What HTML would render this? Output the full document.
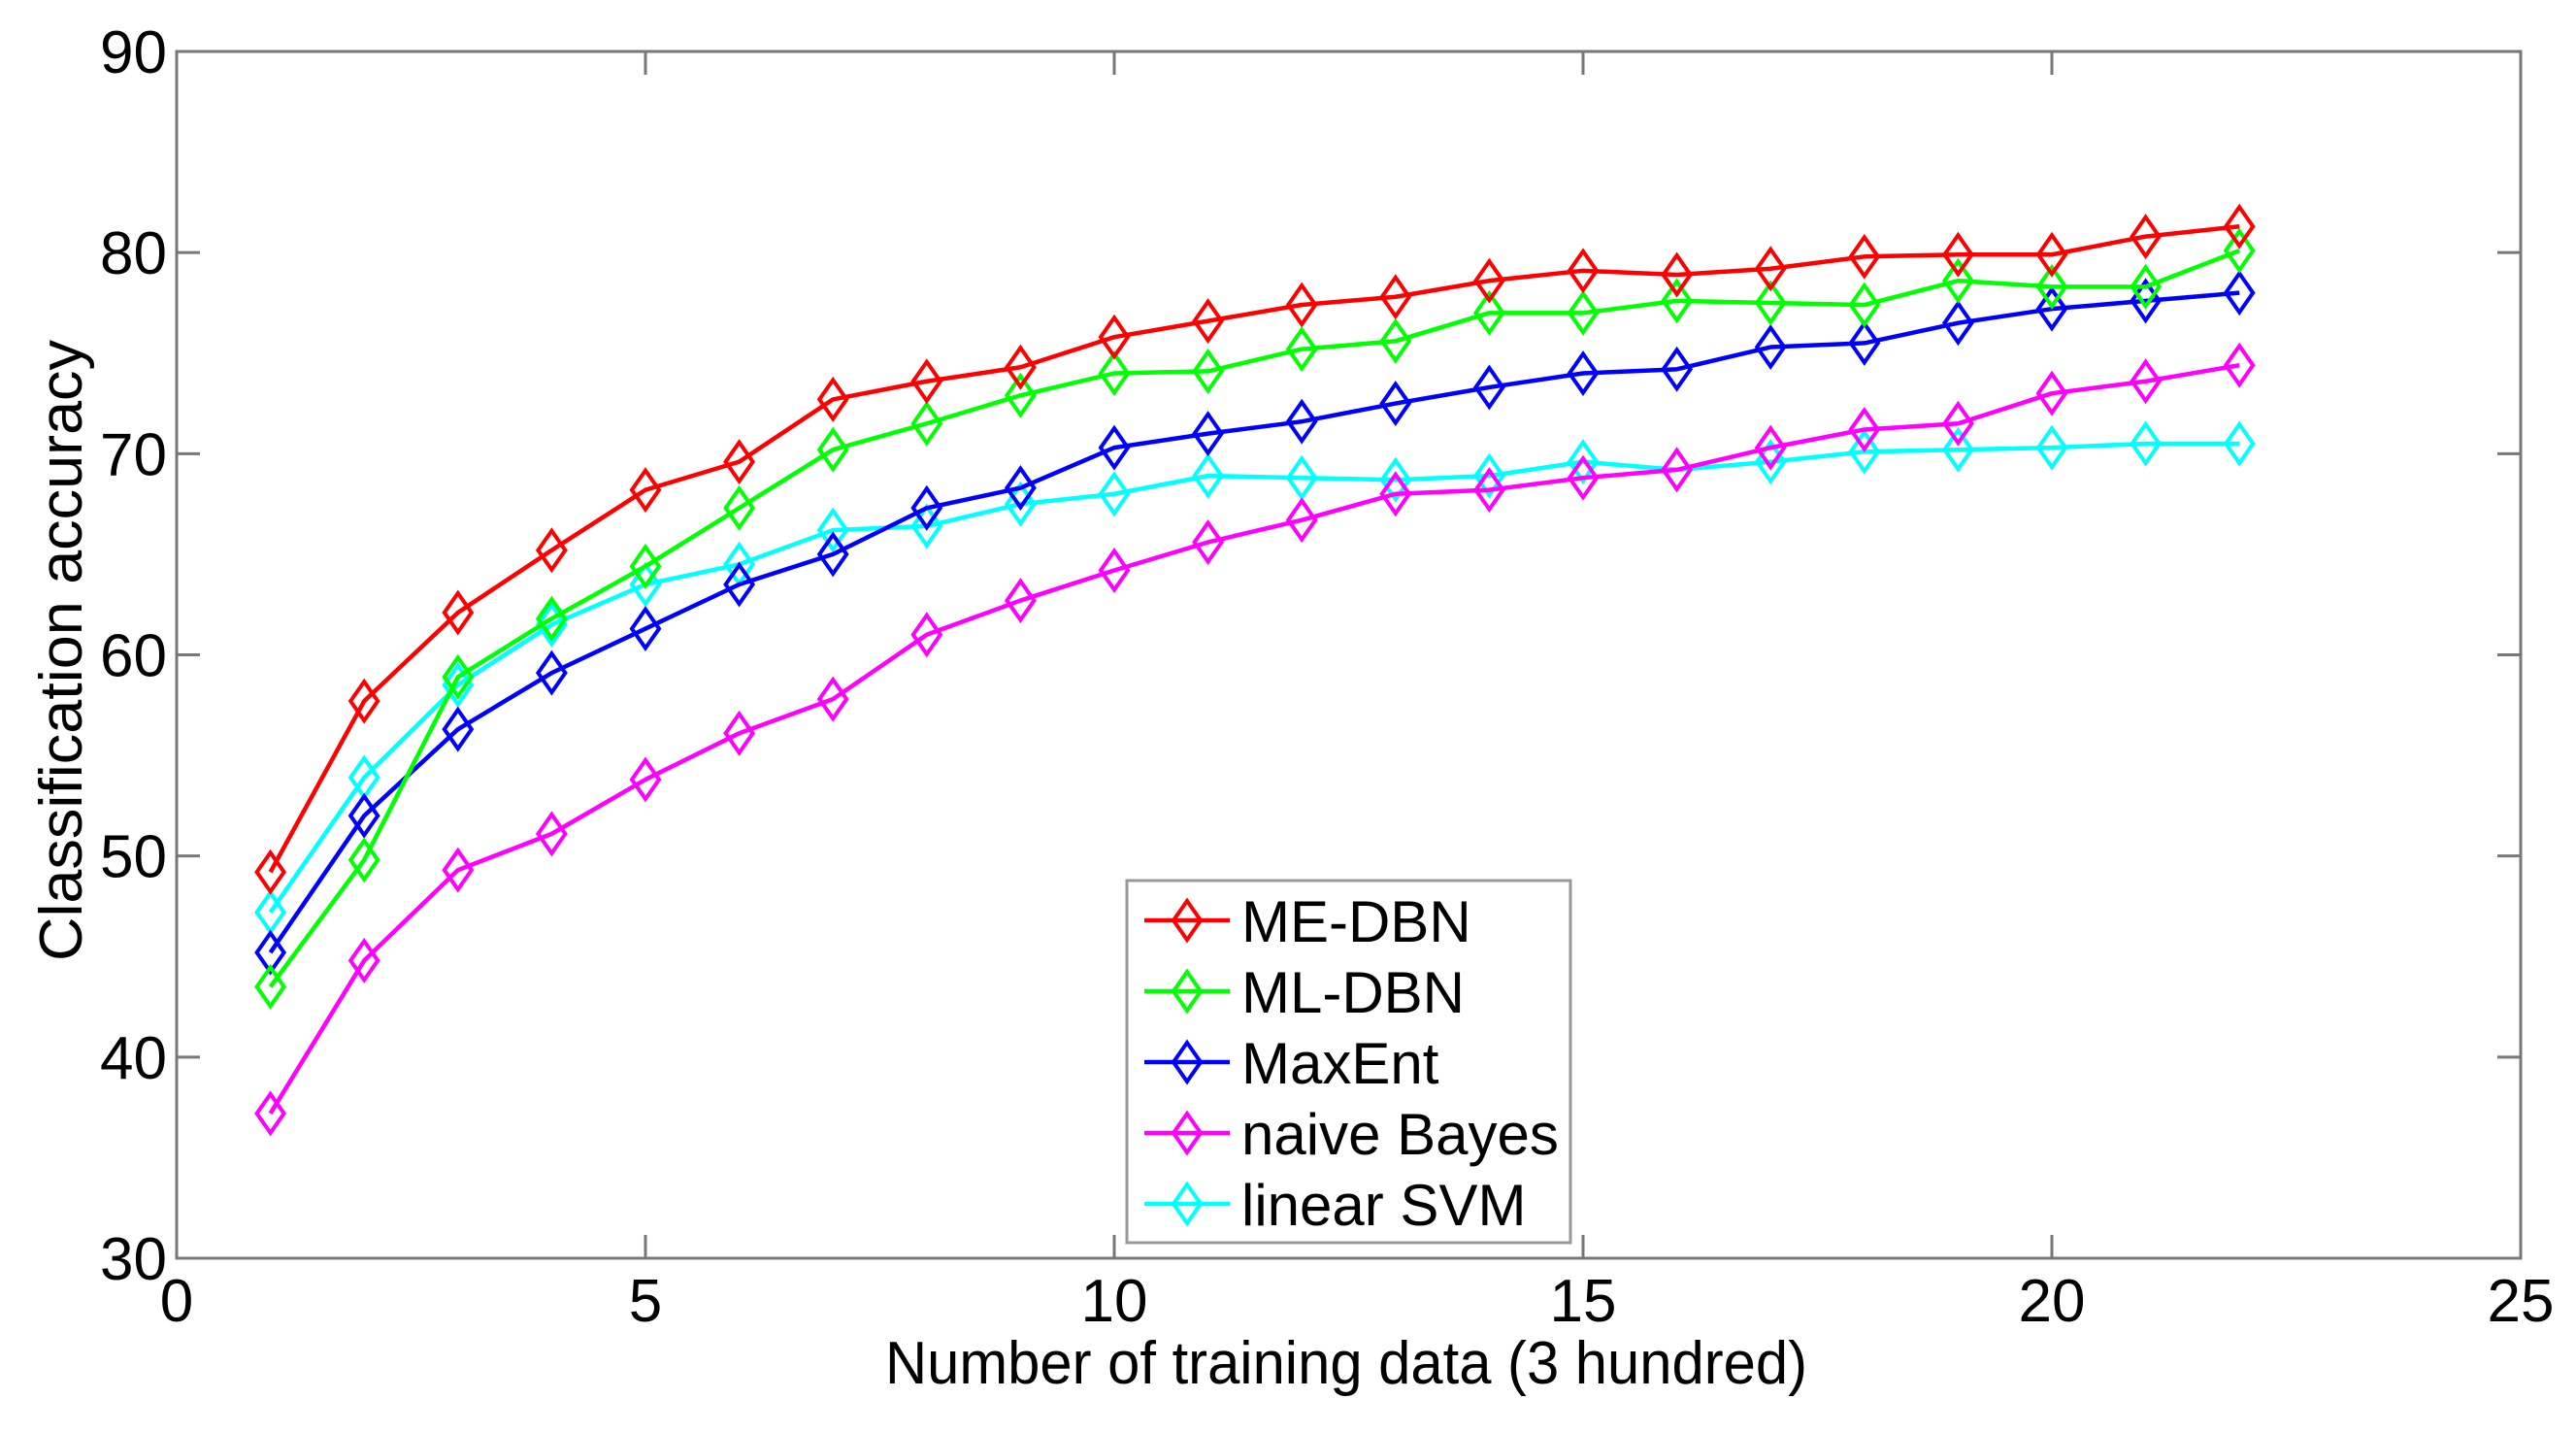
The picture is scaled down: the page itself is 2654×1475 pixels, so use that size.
<!DOCTYPE html>
<html><head><meta charset="utf-8"><style>
html,body{margin:0;padding:0;background:#fff;}
svg{display:block;font-family:"Liberation Sans",Arial,sans-serif;}
</style></head><body>
<svg id="chart" width="2654" height="1475" viewBox="0 0 2654 1475" xmlns="http://www.w3.org/2000/svg"></svg>
<script>
const xValues=[1,2,3,4,5,6,7,8,9,10,11,12,13,14,15,16,17,18,19,20,21,22];
const meDbn=[49.2,57.7,62.1,65.2,68.2,69.6,72.7,73.6,74.3,75.8,76.6,77.4,77.8,78.6,79.1,78.9,79.2,79.8,79.9,79.9,80.8,81.3];
const mlDbn=[43.5,49.8,58.9,61.8,64.4,67.3,70.2,71.5,72.9,74.0,74.1,75.2,75.6,77.0,77.0,77.6,77.5,77.4,78.6,78.3,78.3,80.1];
const maxEnt=[45.2,52.0,56.3,59.1,61.3,63.5,65.0,67.3,68.3,70.3,71.0,71.6,72.5,73.3,74.0,74.2,75.3,75.5,76.5,77.2,77.6,78.0];
const naiveBayes=[37.2,44.8,49.3,51.1,53.8,56.1,57.8,61.0,62.7,64.2,65.6,66.7,68.0,68.2,68.8,69.2,70.3,71.2,71.5,73.0,73.6,74.4];
const linearSvm=[47.2,53.9,58.5,61.5,63.5,64.5,66.2,66.4,67.5,68.0,68.9,68.8,68.7,68.9,69.6,69.2,69.6,70.1,70.2,70.3,70.5,70.5];
const seriesNames=["ME-DBN","ML-DBN","MaxEnt","naive Bayes","linear SVM"];
const xTicks=[0,5,10,15,20,25];
const yTicks=[30,40,50,60,70,80,90];

const L=182,R=2597,T=53,B=1296;
const sx=v=>L+(v-0)/(25-0)*(R-L);
const sy=v=>B-(v-30)/(90-30)*(B-T);
const svg=document.getElementById('chart');
const NS='http://www.w3.org/2000/svg';
function mk(tag,attrs,parent){const e=document.createElementNS(NS,tag);for(const k in attrs)e.setAttribute(k,attrs[k]);(parent||svg).appendChild(e);return e;}

yTicks.forEach(v=>{
  const y=sy(v);
  const t1=mk('line',{x1:L,x2:L+24,y1:y,y2:y,stroke:'#777','stroke-width':3});
  
  
  const t2=mk('line',{x1:R,x2:R-24,y1:y,y2:y,stroke:'#777','stroke-width':3});
  
  
  const tx=mk('text',{x:L-10,y:y+22,'text-anchor':'end','font-size':62,fill:'#000'});
  tx.textContent=v;
  
  
});
xTicks.forEach(v=>{
  const x=sx(v);
  const t1=mk('line',{x1:x,x2:x,y1:B,y2:B-24,stroke:'#777','stroke-width':3});
  
  
  const t2=mk('line',{x1:x,x2:x,y1:T,y2:T+24,stroke:'#777','stroke-width':3});
  
  
  const tx=mk('text',{x:x,y:1361,'text-anchor':'middle','font-size':62,fill:'#000'});
  tx.textContent=v;
  
  
});
const frame=mk('rect',{x:L,y:T,width:R-L,height:B-T,fill:'none',stroke:'#777','stroke-width':3});



const xt=mk('text',{x:912,y:1425,'font-size':62,fill:'#000',textLength:950,lengthAdjust:'spacingAndGlyphs'});
xt.textContent='Number of training data (3 hundred)';


const yt=mk('text',{x:0,y:0,'text-anchor':'middle','font-size':62,fill:'#000',textLength:640,lengthAdjust:'spacingAndGlyphs',transform:'translate(84,670) rotate(-90)'});
yt.textContent='Classification accuracy';



const colors=['#ff0000','#00ff00','#0000ff','#ff00ff','#00ffff'];
const allSeries=[meDbn,mlDbn,maxEnt,naiveBayes,linearSvm];
const keys=['me-dbn','ml-dbn','maxent','naive-bayes','linear-svm'];
function diamond(cx,cy,c,parent){
  return mk('polygon',{points:`${cx},${cy-20} ${cx+14},${cy} ${cx},${cy+20} ${cx-14},${cy}`,fill:'none',stroke:c,'stroke-width':4},parent);
}
for(let i=allSeries.length-1;i>=0;i--){
  const g=mk('g',{});
  
  
  const pts=allSeries[i].map((v,j)=>sx(xValues[j])+','+sy(v)).join(' ');
  const pl=mk('polyline',{points:pts,fill:'none',stroke:colors[i],'stroke-width':4.5,'stroke-linejoin':'round'},g);
  
  
  allSeries[i].forEach((v,j)=>{
    const d=diamond(sx(xValues[j]),sy(v),colors[i],g);
    
    
  });
}

const lg=mk('g',{});


mk('rect',{x:1161,y:907,width:457,height:373,fill:'#fff',stroke:'#999','stroke-width':3},lg);
seriesNames.forEach((n,i)=>{
  const y=948+i*73;
  const e=mk('g',{},lg);
  
  
  mk('line',{x1:1179,x2:1267,y1:y,y2:y,stroke:colors[i],'stroke-width':4.5},e);
  diamond(1223,y,colors[i],e);
  const t=mk('text',{x:1279,y:y+22,'font-size':60,fill:'#000'},e);
  t.textContent=n;
});
</script>
</body></html>
